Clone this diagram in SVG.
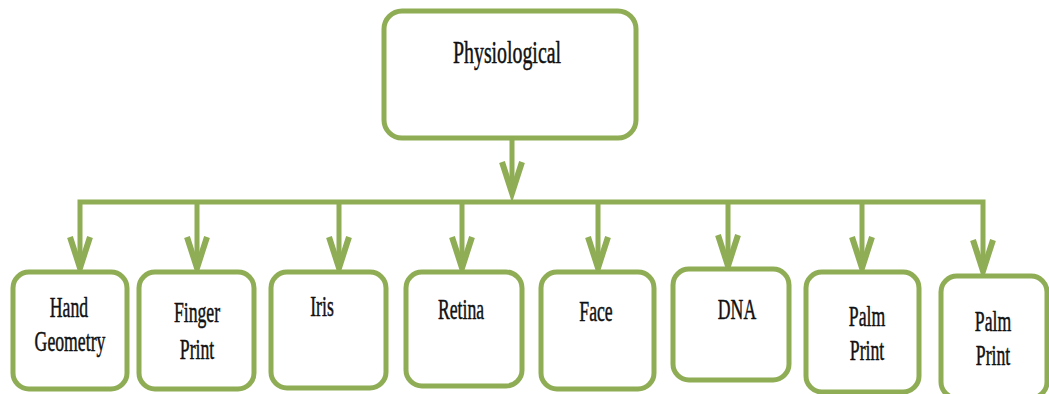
<svg xmlns="http://www.w3.org/2000/svg" width="1049" height="394" viewBox="0 0 1049 394">
  <defs>
    <style>
      .box { fill: #ffffff; stroke: #8fad55; stroke-width: 5; }
      .wire { fill: none; stroke: #8fad55; stroke-width: 5; stroke-linecap: butt; }
      .head { fill: none; stroke: #8fad55; stroke-width: 6; stroke-linejoin: miter; stroke-miterlimit: 10; }
      .lbl { font-family: "Liberation Serif", "Times New Roman", serif; font-size: 30px; fill: #111111; stroke: #111111; stroke-width: 0.5; text-anchor: middle; }
      .title { font-size: 31px; }
    </style>
  </defs>

  <!-- connectors -->
  <g id="connectors">
    <!-- trunk from the root -->
    <line class="wire" x1="512" y1="140" x2="512" y2="192"/>
    <path class="head" d="M502,162 L512,193 L522,162"/>
    <!-- distribution bar -->
    <path class="wire" d="M80,266 L80,202 L983,202 L983,268" stroke-width="7"/>
    <!-- branch drops -->
    <line class="wire" x1="197" y1="202" x2="197" y2="266"/>
    <line class="wire" x1="339" y1="202" x2="339" y2="266"/>
    <line class="wire" x1="462" y1="202" x2="462" y2="266"/>
    <line class="wire" x1="598" y1="202" x2="598" y2="266"/>
    <line class="wire" x1="728" y1="202" x2="728" y2="264"/>
    <line class="wire" x1="862" y1="202" x2="862" y2="266"/>
    <!-- arrowheads -->
    <path class="head" d="M70,237 L80,268 L90,237"/>
    <path class="head" d="M187,237 L197,268 L207,237"/>
    <path class="head" d="M329,237 L339,268 L349,237"/>
    <path class="head" d="M452,237 L462,268 L472,237"/>
    <path class="head" d="M588,237 L598,268 L608,237"/>
    <path class="head" d="M718,235 L728,266 L738,235"/>
    <path class="head" d="M852,237 L862,268 L872,237"/>
    <path class="head" d="M973,240 L983,271 L993,240"/>
  </g>

  <!-- root -->
  <g id="physiological">
    <rect class="box" x="384" y="11" width="252" height="127" rx="18"/>
    <text class="lbl title" transform="translate(507,63) scale(0.64,1)">Physiological</text>
  </g>

  <!-- leaves -->
  <g id="hand-geometry">
    <rect class="box" x="13" y="272" width="114" height="117" rx="16"/>
    <text class="lbl" transform="translate(69,317) scale(0.59,1)">Hand</text>
    <text class="lbl" transform="translate(70,351) scale(0.59,1)">Geometry</text>
  </g>
  <g id="finger-print">
    <rect class="box" x="139" y="272" width="115" height="117" rx="16"/>
    <text class="lbl" transform="translate(197,322) scale(0.59,1)">Finger</text>
    <text class="lbl" transform="translate(197,359) scale(0.59,1)">Print</text>
  </g>
  <g id="iris">
    <rect class="box" x="271" y="272" width="115" height="116" rx="16"/>
    <text class="lbl" transform="translate(322,316) scale(0.59,1)">Iris</text>
  </g>
  <g id="retina">
    <rect class="box" x="406" y="272" width="116" height="114" rx="16"/>
    <text class="lbl" transform="translate(461,319) scale(0.59,1)">Retina</text>
  </g>
  <g id="face">
    <rect class="box" x="541" y="272" width="113" height="117" rx="16"/>
    <text class="lbl" transform="translate(596,321) scale(0.59,1)">Face</text>
  </g>
  <g id="dna">
    <rect class="box" x="673" y="269" width="116" height="111" rx="16"/>
    <text class="lbl" transform="translate(737,319) scale(0.59,1)">DNA</text>
  </g>
  <g id="palm-print-1">
    <rect class="box" x="806" y="272" width="113" height="120" rx="16"/>
    <text class="lbl" transform="translate(867,326) scale(0.59,1)">Palm</text>
    <text class="lbl" transform="translate(867,360) scale(0.59,1)">Print</text>
  </g>
  <g id="palm-print-2">
    <rect class="box" x="941" y="276" width="106" height="122" rx="16"/>
    <text class="lbl" transform="translate(993,331) scale(0.59,1)">Palm</text>
    <text class="lbl" transform="translate(993,365) scale(0.59,1)">Print</text>
  </g>
</svg>
